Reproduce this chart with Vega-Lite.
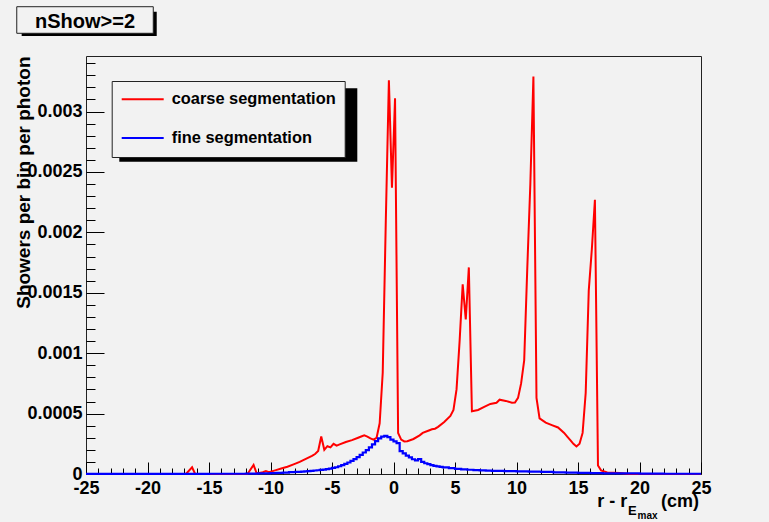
{
  "$schema": "https://vega.github.io/schema/vega-lite/v6.json",
  "width": 615,
  "height": 418,
  "autosize": {"type": "none"},
  "padding": {"left": 86, "top": 56, "right": 68, "bottom": 48},
  "background": "#f2f2f2",
  "config": {
    "view": {"stroke": "#222222", "strokeWidth": 1, "fill": "#f2f2f2"},
    "font": "Liberation Sans"
  },
  "title": {
    "text": "nShow>=2",
    "anchor": "start",
    "frame": "group",
    "align": "center",
    "dx": -1,
    "offset": -41.3,
    "baseline": "alphabetic",
    "fontSize": 20,
    "fontWeight": "bold",
    "font": "Liberation Sans",
    "color": "#000000"
  },
  "datasets": {
    "coarse": [
      {"x": -25, "y": 0}, {"x": -16.875, "y": 0}, {"x": -16.375, "y": 0.000055}, {"x": -16.125, "y": 0},
      {"x": -11.875, "y": 0}, {"x": -11.375, "y": 0.000075}, {"x": -11.125, "y": 0.000005},
      {"x": -10.625, "y": 0.000015}, {"x": -10.375, "y": 0.000025}, {"x": -10.125, "y": 0.000015},
      {"x": -9.625, "y": 0.00003}, {"x": -9.125, "y": 0.000045}, {"x": -8.625, "y": 0.00006},
      {"x": -8.125, "y": 0.00008}, {"x": -7.625, "y": 0.0001}, {"x": -7.125, "y": 0.000125},
      {"x": -6.625, "y": 0.00015}, {"x": -6.375, "y": 0.000165}, {"x": -6.125, "y": 0.00019},
      {"x": -5.875, "y": 0.00031}, {"x": -5.625, "y": 0.0002}, {"x": -5.375, "y": 0.00023},
      {"x": -5.125, "y": 0.00022}, {"x": -4.875, "y": 0.00025}, {"x": -4.625, "y": 0.000235},
      {"x": -4.375, "y": 0.000245}, {"x": -3.875, "y": 0.000265}, {"x": -3.375, "y": 0.00028},
      {"x": -2.875, "y": 0.0003}, {"x": -2.625, "y": 0.00031}, {"x": -2.375, "y": 0.00032},
      {"x": -2.125, "y": 0.00031}, {"x": -1.875, "y": 0.000295}, {"x": -1.625, "y": 0.000285},
      {"x": -1.375, "y": 0.0003}, {"x": -1.125, "y": 0.00042}, {"x": -0.875, "y": 0.00084},
      {"x": -0.625, "y": 0.0021}, {"x": -0.375, "y": 0.00326}, {"x": -0.125, "y": 0.00237},
      {"x": 0.125, "y": 0.00311}, {"x": 0.375, "y": 0.00034}, {"x": 0.625, "y": 0.000285},
      {"x": 0.875, "y": 0.00027}, {"x": 1.125, "y": 0.000272}, {"x": 1.625, "y": 0.00029},
      {"x": 2.125, "y": 0.00032}, {"x": 2.375, "y": 0.00034}, {"x": 2.875, "y": 0.00036},
      {"x": 3.125, "y": 0.00037}, {"x": 3.375, "y": 0.000375}, {"x": 3.625, "y": 0.00039},
      {"x": 4.125, "y": 0.00043}, {"x": 4.625, "y": 0.00048}, {"x": 4.875, "y": 0.00053},
      {"x": 5.125, "y": 0.0007}, {"x": 5.375, "y": 0.0011}, {"x": 5.625, "y": 0.00157},
      {"x": 5.875, "y": 0.00128}, {"x": 6.125, "y": 0.00171}, {"x": 6.375, "y": 0.00052},
      {"x": 6.875, "y": 0.00053}, {"x": 7.375, "y": 0.000555}, {"x": 7.875, "y": 0.00058},
      {"x": 8.375, "y": 0.00059}, {"x": 8.625, "y": 0.000615}, {"x": 9.125, "y": 0.000605},
      {"x": 9.625, "y": 0.00059}, {"x": 9.875, "y": 0.000592}, {"x": 10.125, "y": 0.00063},
      {"x": 10.375, "y": 0.00075}, {"x": 10.625, "y": 0.00094}, {"x": 10.875, "y": 0.0017},
      {"x": 11.125, "y": 0.0024}, {"x": 11.375, "y": 0.00329}, {"x": 11.625, "y": 0.00063},
      {"x": 11.875, "y": 0.00046}, {"x": 12.375, "y": 0.000425}, {"x": 12.875, "y": 0.000405},
      {"x": 13.375, "y": 0.000385}, {"x": 13.875, "y": 0.00034}, {"x": 14.125, "y": 0.00031},
      {"x": 14.375, "y": 0.00028}, {"x": 14.625, "y": 0.00025}, {"x": 14.875, "y": 0.000228},
      {"x": 15.125, "y": 0.00025}, {"x": 15.375, "y": 0.00034}, {"x": 15.625, "y": 0.00067},
      {"x": 15.875, "y": 0.00152}, {"x": 16.125, "y": 0.00186}, {"x": 16.375, "y": 0.00227},
      {"x": 16.625, "y": 0.00007}, {"x": 16.875, "y": 0.00003}, {"x": 17.375, "y": 0.000012},
      {"x": 18.375, "y": 0.000008}, {"x": 19.125, "y": 0}, {"x": 25, "y": 0}
    ],
    "fine": [
      {"x": -25, "y": 0.000001}, {"x": -15, "y": 0.000002}, {"x": -12, "y": 0.000003},
      {"x": -11, "y": 0.000005}, {"x": -10, "y": 0.000008}, {"x": -9.5, "y": 0.00001},
      {"x": -9, "y": 0.000012}, {"x": -8.5, "y": 0.000015}, {"x": -8, "y": 0.000018},
      {"x": -7.5, "y": 0.00002}, {"x": -7.25, "y": 0.000022}, {"x": -7, "y": 0.000024},
      {"x": -6.75, "y": 0.000026}, {"x": -6.5, "y": 0.000029}, {"x": -6.25, "y": 0.000031},
      {"x": -6, "y": 0.000034}, {"x": -5.75, "y": 0.000037}, {"x": -5.5, "y": 0.00004},
      {"x": -5.25, "y": 0.000045}, {"x": -5, "y": 0.00005}, {"x": -4.75, "y": 0.000056},
      {"x": -4.5, "y": 0.000064}, {"x": -4.25, "y": 0.000073}, {"x": -4, "y": 0.000083},
      {"x": -3.75, "y": 0.000095}, {"x": -3.5, "y": 0.000108}, {"x": -3.25, "y": 0.000123},
      {"x": -3, "y": 0.00014}, {"x": -2.75, "y": 0.000158}, {"x": -2.5, "y": 0.000178},
      {"x": -2.25, "y": 0.000198}, {"x": -2, "y": 0.00022}, {"x": -1.75, "y": 0.000245},
      {"x": -1.5, "y": 0.000272}, {"x": -1.25, "y": 0.000295}, {"x": -1, "y": 0.00031},
      {"x": -0.75, "y": 0.000315}, {"x": -0.5, "y": 0.000305}, {"x": -0.25, "y": 0.000285},
      {"x": 0, "y": 0.00027}, {"x": 0.25, "y": 0.000255}, {"x": 0.5, "y": 0.00019},
      {"x": 0.75, "y": 0.00017}, {"x": 1, "y": 0.000152}, {"x": 1.25, "y": 0.000138},
      {"x": 1.5, "y": 0.000122}, {"x": 1.75, "y": 0.000112}, {"x": 2, "y": 0.000124},
      {"x": 2.25, "y": 0.0001}, {"x": 2.5, "y": 0.000089}, {"x": 2.75, "y": 0.000082},
      {"x": 3, "y": 0.000074}, {"x": 3.25, "y": 0.000068}, {"x": 3.5, "y": 0.000063},
      {"x": 3.75, "y": 0.000059}, {"x": 4, "y": 0.000055}, {"x": 4.5, "y": 0.000048},
      {"x": 5, "y": 0.000042}, {"x": 5.5, "y": 0.000038}, {"x": 6, "y": 0.000035},
      {"x": 6.5, "y": 0.000032}, {"x": 7, "y": 0.00003}, {"x": 7.5, "y": 0.000028},
      {"x": 8, "y": 0.000026}, {"x": 9, "y": 0.000024}, {"x": 10, "y": 0.000021},
      {"x": 11, "y": 0.000019}, {"x": 12, "y": 0.000017}, {"x": 13, "y": 0.000014},
      {"x": 14, "y": 0.000012}, {"x": 15, "y": 0.00001}, {"x": 16, "y": 0.000008},
      {"x": 17, "y": 0.000006}, {"x": 18, "y": 0.000005}, {"x": 20, "y": 0.000003},
      {"x": 22, "y": 0.000002}, {"x": 25, "y": 0.000002}
    ]
  },
  "layer": [
    {
      "data": {"name": "coarse"},
      "mark": {"type": "line", "strokeWidth": 2, "interpolate": "linear"},
      "encoding": {
        "x": {
          "field": "x",
          "type": "quantitative",
          "scale": {"domain": [-25, 25], "nice": false, "zero": false},
          "axis": {
            "values": [-25,-24,-23,-22,-21,-20,-19,-18,-17,-16,-15,-14,-13,-12,-11,-10,-9,-8,-7,-6,-5,-4,-3,-2,-1,0,1,2,3,4,5,6,7,8,9,10,11,12,13,14,15,16,17,18,19,20,21,22,23,24,25],
            "tickCount": 1000,
            "labelExpr": "datum.value % 5 === 0 ? '' + datum.value : ''",
            "tickSize": {"condition": {"test": "datum.value % 5 === 0", "value": -12}, "value": -6},
            "tickColor": "#000000",
            "tickWidth": 1,
            "domain": false,
            "grid": false,
            "labelFont": "Liberation Sans",
            "labelFontWeight": "bold",
            "labelFontSize": 18,
            "labelColor": "#000000",
            "labelPadding": 17,
            "labelOverlap": false,
            "labelFlush": false,
            "labelBound": false,
            "title": "r - r",
            "titleFont": "Liberation Sans",
            "titleFontSize": 18,
            "titleFontWeight": "bold",
            "titleColor": "#000000",
            "titleAnchor": "start",
            "titleAlign": "left",
            "titleBaseline": "alphabetic",
            "titleX": 510.7,
            "titleY": 32.7
          }
        },
        "y": {
          "field": "y",
          "type": "quantitative",
          "scale": {"domain": [0, 0.00346], "nice": false, "zero": false},
          "axis": {
            "values": [0,0.0001,0.0002,0.0003,0.0004,0.0005,0.0006,0.0007,0.0008,0.0009,0.001,0.0011,0.0012,0.0013,0.0014,0.0015,0.0016,0.0017,0.0018,0.0019,0.002,0.0021,0.0022,0.0023,0.0024,0.0025,0.0026,0.0027,0.0028,0.0029,0.003,0.0031,0.0032,0.0033,0.0034],
            "tickCount": 1000,
            "labelExpr": "round(datum.value * 10000) % 5 === 0 ? '' + datum.value : ''",
            "tickSize": {"condition": {"test": "round(datum.value * 10000) % 5 === 0", "value": -18}, "value": -9},
            "tickColor": "#000000",
            "tickWidth": 1,
            "domain": false,
            "grid": false,
            "labelFont": "Liberation Sans",
            "labelFontWeight": "bold",
            "labelFontSize": 18,
            "labelColor": "#000000",
            "labelPadding": 22,
            "labelOverlap": false,
            "labelFlush": false,
            "labelBound": false,
            "title": "Showers per bin per photon",
            "titleFont": "Liberation Sans",
            "titleFontSize": 19,
            "titleFontWeight": "bold",
            "titleColor": "#000000",
            "titleAngle": 270,
            "titleAlign": "right",
            "titleBaseline": "middle",
            "titleX": -63,
            "titleY": 0
          }
        },
        "color": {
          "datum": "coarse segmentation",
          "type": "nominal",
          "scale": {"domain": ["coarse segmentation", "fine segmentation"], "range": ["#ff0000", "#0000ff"]},
          "legend": {
            "orient": "none",
            "legendX": 25.7,
            "legendY": 25,
            "title": null,
            "fillColor": "#f2f2f2",
            "strokeColor": "#222222",
            "padding": 9,
            "symbolType": "stroke",
            "symbolSize": 1764,
            "symbolStrokeWidth": 2,
            "clipHeight": 18.6,
            "rowPadding": 19.8,
            "labelFont": "Liberation Sans",
            "labelFontSize": 16.4,
            "labelFontWeight": "bold",
            "labelColor": "#000000",
            "labelOffset": 7,
            "labelLimit": 400
          }
        }
      }
    },
    {
      "data": {"name": "fine"},
      "mark": {"type": "line", "strokeWidth": 2.2, "interpolate": "step-after"},
      "encoding": {
        "x": {"field": "x", "type": "quantitative"},
        "y": {"field": "y", "type": "quantitative"},
        "color": {"datum": "fine segmentation", "type": "nominal"}
      }
    },
    {
      "data": {"values": [{}]},
      "mark": {"type": "rect", "fill": "#000000"},
      "encoding": {
        "x": {"datum": -30.23, "type": "quantitative"},
        "x2": {"datum": -19.25},
        "y": {"datum": 0.003827, "type": "quantitative"},
        "y2": {"datum": 0.003626}
      }
    },
    {
      "data": {"values": [{}]},
      "mark": {"type": "rect", "fill": "#f2f2f2", "stroke": "#222222", "strokeWidth": 1},
      "encoding": {
        "x": {"datum": -30.63, "type": "quantitative"},
        "x2": {"datum": -19.53},
        "y": {"datum": 0.003868, "type": "quantitative"},
        "y2": {"datum": 0.003648}
      }
    },
    {
      "data": {"values": [{}]},
      "mark": {"type": "rect", "fill": "#000000"},
      "encoding": {
        "x": {"datum": -22.293, "type": "quantitative"},
        "x2": {"datum": -2.943},
        "y": {"datum": 0.003193, "type": "quantitative"},
        "y2": {"datum": 0.002585}
      }
    },
    {
      "data": {"values": [{}]},
      "mark": {"type": "text", "text": "E", "font": "Liberation Sans", "fontWeight": "bold", "fontSize": 13, "align": "left", "baseline": "alphabetic", "color": "#000000"},
      "encoding": {
        "x": {"datum": 19.065, "type": "quantitative"},
        "y": {"datum": -0.0003394, "type": "quantitative"}
      }
    },
    {
      "data": {"values": [{}]},
      "mark": {"type": "text", "text": "max", "font": "Liberation Sans", "fontWeight": "bold", "fontSize": 10, "align": "left", "baseline": "alphabetic", "color": "#000000"},
      "encoding": {
        "x": {"datum": 19.837, "type": "quantitative"},
        "y": {"datum": -0.0003766, "type": "quantitative"}
      }
    },
    {
      "data": {"values": [{}]},
      "mark": {"type": "text", "text": "(cm)", "font": "Liberation Sans", "fontWeight": "bold", "fontSize": 18, "align": "right", "baseline": "alphabetic", "color": "#000000"},
      "encoding": {
        "x": {"datum": 24.837, "type": "quantitative"},
        "y": {"datum": -0.0002707, "type": "quantitative"}
      }
    }
  ]
}
